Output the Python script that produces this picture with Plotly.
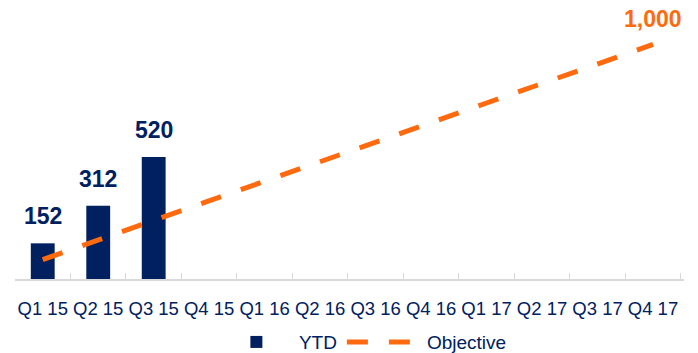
import plotly.graph_objects as go

categories = ["Q1 15", "Q2 15", "Q3 15", "Q4 15", "Q1 16", "Q2 16",
              "Q3 16", "Q4 16", "Q1 17", "Q2 17", "Q3 17", "Q4 17"]
ytd_values = [152, 312, 520]
objective_values = [83, 167, 250, 333, 417, 500, 583, 667, 750, 833, 917, 1000]

NAVY = "#002060"
ORANGE = "#FF6A0E"
FONT = "Liberation Sans, Arial, sans-serif"

fig = go.Figure()
fig.add_trace(go.Bar(
    x=categories[:len(ytd_values)], y=ytd_values, name="YTD",
    marker=dict(color=NAVY, line=dict(width=0)),
))
fig.add_trace(go.Scatter(
    x=categories, y=objective_values, name="Objective", mode="lines",
    line=dict(color=ORANGE, width=5, dash="21px,21px"),
))

annotations = []
for c, v in zip(categories, ytd_values):
    annotations.append(dict(
        x=c, y=v, text=f"{v:,}", showarrow=False, yanchor="bottom",
        yshift=12, font=dict(family=FONT, size=23, color=NAVY, weight="bold"),
    ))
annotations.append(dict(
    x=categories[-1], y=objective_values[-1], text=f"{objective_values[-1]:,}",
    showarrow=False, yanchor="bottom", yshift=10,
    font=dict(family=FONT, size=23, color=ORANGE, weight="bold"),
))

fig.update_layout(
    width=698, height=353,
    margin=dict(l=15, r=14, t=0, b=74, autoexpand=False),
    paper_bgcolor="white", plot_bgcolor="white",
    bargap=0.57,
    showlegend=True,
    legend=dict(orientation="h", x=0.52, xanchor="center", y=-0.158, yanchor="top",
                font=dict(family=FONT, size=19, color=NAVY), itemwidth=75,
                bgcolor="rgba(0,0,0,0)"),
    annotations=annotations,
    font=dict(family=FONT, color=NAVY),
)
fig.update_xaxes(
    type="category", categoryorder="array", categoryarray=categories,
    showline=True, linecolor="#D9D9D9", linewidth=1.5,
    ticks="inside", ticklen=6, tickcolor="#D9D9D9", tickson="boundaries",
    tickfont=dict(family=FONT, size=18.5, color=NAVY), tickangle=0,
    ticklabelstandoff=12, showgrid=False, zeroline=False, automargin=False,
)
fig.update_yaxes(range=[0, 1189], visible=False, showgrid=False, zeroline=False)

fig.write_html("out.html")
